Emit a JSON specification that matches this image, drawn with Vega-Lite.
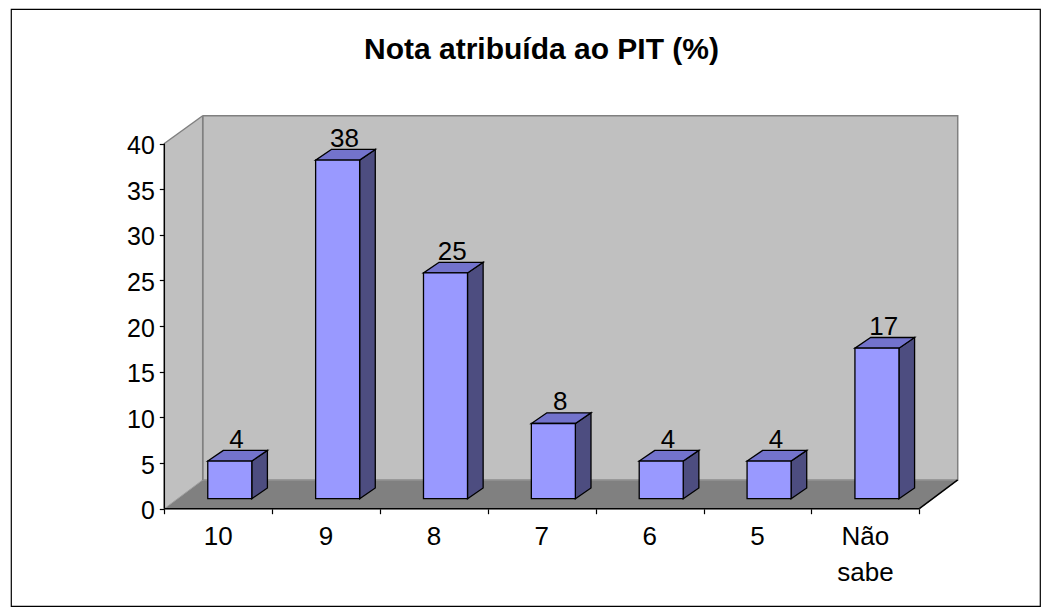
{
  "$schema": "https://vega.github.io/schema/vega-lite/v6.json",
  "width": 1029,
  "height": 597,
  "autosize": {"type": "none"},
  "padding": {"left": 11, "top": 9, "right": 11, "bottom": 9},
  "background": "white",
  "config": {"view": {"stroke": "black", "strokeWidth": 1.2}},
  "title": {
    "text": "Nota atribuída ao PIT (%)",
    "font": "Liberation Sans",
    "fontSize": 30,
    "fontWeight": "bold",
    "color": "black",
    "anchor": "middle",
    "frame": "group",
    "baseline": "alphabetic",
    "offset": 0,
    "dx": 16,
    "dy": 80
  },
  "data": {
    "values": [
      {"nota": "10", "pct": 4.17},
      {"nota": "9", "pct": 37.5},
      {"nota": "8", "pct": 25},
      {"nota": "7", "pct": 8.33},
      {"nota": "6", "pct": 4.17},
      {"nota": "5", "pct": 4.17},
      {"nota": "Não sabe", "pct": 16.67}
    ]
  },
  "layer": [
    {
      "transform": [
        {"aggregate": [{"op": "count", "as": "n"}]},
        {"calculate": "0.356", "as": "bx"},
        {"calculate": "7.356", "as": "bx2"},
        {"calculate": "3.15", "as": "by"},
        {"calculate": "43.04", "as": "by2"}
      ],
      "mark": {"type": "rect", "fill": "#C0C0C0", "stroke": "#808080", "strokeWidth": 1.5},
      "encoding": {
        "x": {"field": "bx", "type": "quantitative", "title": null, "scale": {"domain": [-1.4213, 8.1188], "nice": false, "zero": false},
          "axis": {"orient": "bottom", "offset": -97.3, "values": [0, 1, 2, 3, 4, 5, 6, 7], "domain": false, "labels": false, "grid": false, "ticks": true, "tickSize": 5, "tickColor": "black", "tickWidth": 1.2, "title": null}},
        "x2": {"field": "bx2"},
        "y": {"field": "by", "type": "quantitative", "title": null, "scale": {"domain": [-10.657, 54.732], "nice": false, "zero": false},
          "axis": {"orient": "left", "offset": -153.3, "values": [0, 5, 10, 15, 20, 25, 30, 35, 40], "domain": false, "grid": false, "ticks": true, "tickSize": 5, "tickColor": "black", "tickWidth": 1.2, "labelFont": "Liberation Sans", "labelFontSize": 25, "labelColor": "black", "labelPadding": 5, "labelOffset": 2, "labelFlush": false, "labelOverlap": false, "title": null}},
        "y2": {"field": "by2"}
      }
    },
    {
      "transform": [
        {"aggregate": [{"op": "count", "as": "n"}]},
        {"calculate": "0", "as": "swa"},
        {"calculate": "0.356", "as": "swb"},
        {"calculate": "0", "as": "swc"},
        {"calculate": "43.04", "as": "swd"}
      ],
      "mark": {"type": "rect", "fill": "#C0C0C0", "strokeWidth": 0},
      "encoding": {
        "x": {"field": "swa", "type": "quantitative", "title": null},
        "x2": {"field": "swb"},
        "y": {"field": "swc", "type": "quantitative", "title": null},
        "y2": {"field": "swd"}
      }
    },
    {
      "transform": [
        {"aggregate": [{"op": "count", "as": "n"}]},
        {"calculate": "-0.0649", "as": "wsa"},
        {"calculate": "0.2911", "as": "wsb"},
        {"calculate": "41.09", "as": "wsc"},
        {"calculate": "44.11", "as": "wsd"}
      ],
      "mark": {"type": "rule", "color": "white", "strokeWidth": 24, "strokeCap": "butt"},
      "encoding": {
        "x": {"field": "wsa", "type": "quantitative", "title": null},
        "x2": {"field": "wsb"},
        "y": {"field": "wsc", "type": "quantitative", "title": null},
        "y2": {"field": "wsd"}
      }
    },
    {
      "transform": [
        {"aggregate": [{"op": "count", "as": "n"}]},
        {"calculate": "[0,1]", "as": "fk"},
        {"flatten": ["fk"]},
        {"calculate": "datum.fk * 3.15", "as": "fy"},
        {"calculate": "datum.fk * 0.356", "as": "fx"},
        {"calculate": "7 + datum.fk * 0.356", "as": "fx2"}
      ],
      "mark": {"type": "area", "orient": "horizontal", "fill": "#808080", "stroke": "#A0A0A0", "strokeWidth": 1},
      "encoding": {
        "y": {"field": "fy", "type": "quantitative", "title": null},
        "x": {"field": "fx", "type": "quantitative", "title": null},
        "x2": {"field": "fx2"}
      }
    },
    {
      "transform": [
        {"aggregate": [{"op": "count", "as": "n"}]},
        {"calculate": "[0,1]", "as": "ge"},
        {"flatten": ["ge"]},
        {"calculate": "datum.ge == 0 ? 0 : 0.356", "as": "gxa"},
        {"calculate": "0.356", "as": "gxb"},
        {"calculate": "datum.ge == 0 ? 40 : 3.15", "as": "gya"},
        {"calculate": "43.04", "as": "gyb"}
      ],
      "mark": {"type": "rule", "color": "#808080", "strokeWidth": 1.5},
      "encoding": {
        "x": {"field": "gxa", "type": "quantitative", "title": null},
        "x2": {"field": "gxb"},
        "y": {"field": "gya", "type": "quantitative", "title": null},
        "y2": {"field": "gyb"}
      }
    },
    {
      "transform": [
        {"aggregate": [{"op": "count", "as": "n"}]},
        {"calculate": "[0,1,2]", "as": "e"},
        {"flatten": ["e"]},
        {"calculate": "datum.e == 2 ? 7 : 0", "as": "rx"},
        {"calculate": "datum.e == 0 ? 0 : (datum.e == 1 ? 7 : 7.356)", "as": "rx2"},
        {"calculate": "0", "as": "ry"},
        {"calculate": "datum.e == 0 ? 40 : (datum.e == 1 ? 0 : 3.15)", "as": "ry2"}
      ],
      "mark": {"type": "rule", "color": "black", "strokeWidth": 1.5},
      "encoding": {
        "x": {"field": "rx", "type": "quantitative", "title": null},
        "x2": {"field": "rx2"},
        "y": {"field": "ry", "type": "quantitative", "title": null},
        "y2": {"field": "ry2"}
      }
    },
    {
      "transform": [
        {"window": [{"op": "row_number", "as": "rn"}]},
        {"calculate": "datum.rn - 1", "as": "i"},
        {"calculate": "datum.i + 0.811", "as": "x1"},
        {"calculate": "1.095 + datum.pct * 0.989", "as": "top"},
        {"calculate": "[0,1]", "as": "k"},
        {"flatten": ["k"]},
        {"calculate": "datum.x1 + datum.k * 0.145", "as": "sx"},
        {"calculate": "datum.top + datum.k * 1.17", "as": "sy"},
        {"calculate": "1.095 + datum.k * 1.17", "as": "sy2"}
      ],
      "mark": {"type": "area", "orient": "vertical", "fill": "#4D4D80", "stroke": "black", "strokeWidth": 1.3},
      "encoding": {
        "x": {"field": "sx", "type": "quantitative", "title": null},
        "y": {"field": "sy", "type": "quantitative", "title": null},
        "y2": {"field": "sy2"},
        "detail": {"field": "nota", "type": "nominal"}
      }
    },
    {
      "transform": [
        {"window": [{"op": "row_number", "as": "rn"}]},
        {"calculate": "datum.rn - 1", "as": "i"},
        {"calculate": "datum.i + 0.403", "as": "x0"},
        {"calculate": "datum.i + 0.811", "as": "x1"},
        {"calculate": "1.095 + datum.pct * 0.989", "as": "top"},
        {"calculate": "[0,1]", "as": "k"},
        {"flatten": ["k"]},
        {"calculate": "datum.x0 + datum.k * 0.145", "as": "tx"},
        {"calculate": "datum.x1 + datum.k * 0.145", "as": "tx2"},
        {"calculate": "datum.top + datum.k * 1.17", "as": "ty"}
      ],
      "mark": {"type": "area", "orient": "horizontal", "fill": "#7373CC", "stroke": "black", "strokeWidth": 1.3},
      "encoding": {
        "y": {"field": "ty", "type": "quantitative", "title": null},
        "x": {"field": "tx", "type": "quantitative", "title": null},
        "x2": {"field": "tx2"},
        "detail": {"field": "nota", "type": "nominal"}
      }
    },
    {
      "transform": [
        {"window": [{"op": "row_number", "as": "rn"}]},
        {"calculate": "datum.rn - 1", "as": "i"},
        {"calculate": "datum.i + 0.403", "as": "x0"},
        {"calculate": "datum.i + 0.811", "as": "x1"},
        {"calculate": "1.095", "as": "base"},
        {"calculate": "1.095 + datum.pct * 0.989", "as": "top"}
      ],
      "mark": {"type": "rect", "fill": "#9999FF", "stroke": "black", "strokeWidth": 1.3},
      "encoding": {
        "x": {"field": "x0", "type": "quantitative", "title": null},
        "x2": {"field": "x1"},
        "y": {"field": "base", "type": "quantitative", "title": null},
        "y2": {"field": "top"}
      }
    },
    {
      "transform": [
        {"window": [{"op": "row_number", "as": "rn"}]},
        {"calculate": "datum.rn - 1", "as": "i"},
        {"calculate": "datum.i + 0.67", "as": "lx"},
        {"calculate": "1.095 + datum.pct * 0.989 + 1.17 + 0.3", "as": "ly"}
      ],
      "mark": {"type": "text", "font": "Liberation Sans", "fontSize": 26, "color": "black", "align": "center", "baseline": "alphabetic"},
      "encoding": {
        "x": {"field": "lx", "type": "quantitative", "title": null},
        "y": {"field": "ly", "type": "quantitative", "title": null},
        "text": {"field": "pct", "type": "quantitative", "format": ".0f"}
      }
    },
    {
      "transform": [
        {"window": [{"op": "row_number", "as": "rn"}]},
        {"calculate": "datum.rn - 0.5", "as": "lcx"},
        {"calculate": "-4", "as": "lcy"}
      ],
      "mark": {"type": "text", "font": "Liberation Sans", "fontSize": 26, "color": "black", "align": "center", "baseline": "alphabetic", "lineBreak": " ", "lineHeight": 36},
      "encoding": {
        "x": {"field": "lcx", "type": "quantitative", "title": null},
        "y": {"field": "lcy", "type": "quantitative", "title": null},
        "text": {"field": "nota", "type": "nominal"}
      }
    }
  ]
}
